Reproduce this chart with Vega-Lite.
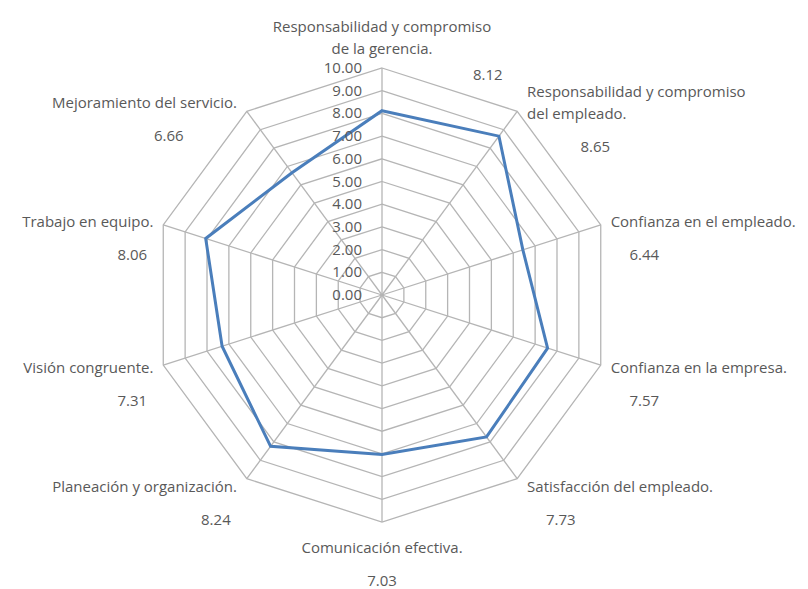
{
  "$schema": "https://vega.github.io/schema/vega-lite/v6.json",
  "width": 460,
  "height": 454,
  "autosize": {"type": "none"},
  "padding": {"left": 152, "top": 68, "right": 196, "bottom": 67},
  "background": "white",
  "config": {"view": {"stroke": null}, "text": {"font": "Open Sans", "fontSize": 15, "color": "#595959"}},
  "datasets": {
    "criterios": [
      {"criterio": "Responsabilidad y compromiso de la gerencia.", "valor": 8.12},
      {"criterio": "Responsabilidad y compromiso del empleado.", "valor": 8.65},
      {"criterio": "Confianza en el empleado.", "valor": 6.44},
      {"criterio": "Confianza en la empresa.", "valor": 7.57},
      {"criterio": "Satisfacción del empleado.", "valor": 7.73},
      {"criterio": "Comunicación efectiva.", "valor": 7.03},
      {"criterio": "Planeación y organización.", "valor": 8.24},
      {"criterio": "Visión congruente.", "valor": 7.31},
      {"criterio": "Trabajo en equipo.", "valor": 8.06},
      {"criterio": "Mejoramiento del servicio.", "valor": 6.66}
    ],
    "niveles": [
      {"v": 0}, {"v": 1}, {"v": 2}, {"v": 3}, {"v": 4}, {"v": 5},
      {"v": 6}, {"v": 7}, {"v": 8}, {"v": 9}, {"v": 10}
    ]
  },
  "data": {"name": "criterios"},
  "transform": [
    {"window": [{"op": "row_number", "as": "i"}]},
    {"calculate": "(datum.i - 1) * 2 * PI / 10", "as": "a"},
    {"calculate": "sin(datum.a)", "as": "s"},
    {"calculate": "cos(datum.a)", "as": "c"},
    {"calculate": "datum.s > 0.1 ? 1 : (datum.s < -0.1 ? -1 : 0)", "as": "sgn"},
    {"calculate": "length(datum.criterio) > 30 ? replace(datum.criterio, 'compromiso ', 'compromiso|') : datum.criterio", "as": "lbl"},
    {"calculate": "length(split(datum.lbl, '|'))", "as": "n"},
    {"calculate": "10 * datum.s + datum.sgn * 0.43", "as": "lx"},
    {"calculate": "datum.sgn != 0 ? 10.44 * datum.c + (datum.n - 1) * 0.485 : (datum.c > 0 ? 10.35 + (2 * datum.n - 1) * 0.485 : -11.15)", "as": "ly"},
    {"calculate": "datum.sgn != 0 ? 10 * datum.s + (datum.c > 0.5 ? datum.sgn * 2.75 : (datum.sgn > 0 ? 1.25 : -0.7)) : (datum.c > 0 ? 4.6 : 0)", "as": "vx"},
    {"calculate": "datum.sgn != 0 ? 10.44 * datum.c - (datum.n - 1) * 0.485 - 1.45 : (datum.c > 0 ? 9.7 : -12.6)", "as": "vy"},
    {"calculate": "format(datum.valor, '.2f')", "as": "vt"},
    {"calculate": "10 * datum.s", "as": "sx"},
    {"calculate": "10 * datum.c", "as": "sy"},
    {"calculate": "datum.valor * datum.s", "as": "px"},
    {"calculate": "datum.valor * datum.c", "as": "py"}
  ],
  "layer": [
    {
      "transform": [
        {"calculate": "[1,2,3,4,5,6,7,8,9,10]", "as": "nivel"},
        {"flatten": ["nivel"]},
        {"calculate": "datum.nivel * datum.s", "as": "gx"},
        {"calculate": "datum.nivel * datum.c", "as": "gy"}
      ],
      "mark": {"type": "line", "interpolate": "linear-closed", "stroke": "#b5b5b5", "strokeWidth": 1.3},
      "encoding": {
        "x": {"field": "gx", "type": "quantitative", "scale": {"domain": [-10, 10], "nice": false, "zero": false}, "axis": null},
        "y": {"field": "gy", "type": "quantitative", "scale": {"domain": [-10, 10], "nice": false, "zero": false}, "axis": null},
        "detail": {"field": "nivel", "type": "nominal"},
        "order": {"field": "i", "type": "quantitative"}
      }
    },
    {
      "transform": [{"calculate": "0", "as": "o"}],
      "mark": {"type": "rule", "stroke": "#b5b5b5", "strokeWidth": 1.3},
      "encoding": {
        "x": {"field": "o", "type": "quantitative", "scale": {"domain": [-10, 10], "nice": false, "zero": false}, "axis": null},
        "y": {"field": "o", "type": "quantitative", "scale": {"domain": [-10, 10], "nice": false, "zero": false}, "axis": null},
        "x2": {"field": "sx"},
        "y2": {"field": "sy"}
      }
    },
    {
      "mark": {"type": "line", "interpolate": "linear-closed", "stroke": "#4a7ebb", "strokeWidth": 3},
      "encoding": {
        "x": {"field": "px", "type": "quantitative", "scale": {"domain": [-10, 10], "nice": false, "zero": false}, "axis": null},
        "y": {"field": "py", "type": "quantitative", "scale": {"domain": [-10, 10], "nice": false, "zero": false}, "axis": null},
        "order": {"field": "i", "type": "quantitative"}
      }
    },
    {
      "data": {"name": "niveles"},
      "transform": [{"calculate": "format(datum.v, '.2f')", "as": "t"}, {"calculate": "0", "as": "o"}],
      "mark": {"type": "text", "align": "right", "baseline": "middle", "dx": -20},
      "encoding": {
        "x": {"field": "o", "type": "quantitative", "scale": {"domain": [-10, 10], "nice": false, "zero": false}, "axis": null},
        "y": {"field": "v", "type": "quantitative", "scale": {"domain": [-10, 10], "nice": false, "zero": false}, "axis": null},
        "text": {"field": "t", "type": "nominal"}
      }
    },
    {
      "transform": [{"filter": "datum.sgn > 0"}],
      "mark": {"type": "text", "align": "left", "baseline": "middle", "lineBreak": "|", "lineHeight": 22},
      "encoding": {
        "x": {"field": "lx", "type": "quantitative", "scale": {"domain": [-10, 10], "nice": false, "zero": false}, "axis": null},
        "y": {"field": "ly", "type": "quantitative", "scale": {"domain": [-10, 10], "nice": false, "zero": false}, "axis": null},
        "text": {"field": "lbl", "type": "nominal"}
      }
    },
    {
      "transform": [{"filter": "datum.sgn < 0"}],
      "mark": {"type": "text", "align": "right", "baseline": "middle", "lineBreak": "|", "lineHeight": 22},
      "encoding": {
        "x": {"field": "lx", "type": "quantitative", "scale": {"domain": [-10, 10], "nice": false, "zero": false}, "axis": null},
        "y": {"field": "ly", "type": "quantitative", "scale": {"domain": [-10, 10], "nice": false, "zero": false}, "axis": null},
        "text": {"field": "lbl", "type": "nominal"}
      }
    },
    {
      "transform": [{"filter": "datum.sgn == 0"}],
      "mark": {"type": "text", "align": "center", "baseline": "middle", "lineBreak": "|", "lineHeight": 22},
      "encoding": {
        "x": {"field": "lx", "type": "quantitative", "scale": {"domain": [-10, 10], "nice": false, "zero": false}, "axis": null},
        "y": {"field": "ly", "type": "quantitative", "scale": {"domain": [-10, 10], "nice": false, "zero": false}, "axis": null},
        "text": {"field": "lbl", "type": "nominal"}
      }
    },
    {
      "transform": [{"filter": "datum.sgn > 0"}],
      "mark": {"type": "text", "align": "left", "baseline": "middle"},
      "encoding": {
        "x": {"field": "vx", "type": "quantitative", "scale": {"domain": [-10, 10], "nice": false, "zero": false}, "axis": null},
        "y": {"field": "vy", "type": "quantitative", "scale": {"domain": [-10, 10], "nice": false, "zero": false}, "axis": null},
        "text": {"field": "vt", "type": "nominal"}
      }
    },
    {
      "transform": [{"filter": "datum.sgn < 0"}],
      "mark": {"type": "text", "align": "right", "baseline": "middle"},
      "encoding": {
        "x": {"field": "vx", "type": "quantitative", "scale": {"domain": [-10, 10], "nice": false, "zero": false}, "axis": null},
        "y": {"field": "vy", "type": "quantitative", "scale": {"domain": [-10, 10], "nice": false, "zero": false}, "axis": null},
        "text": {"field": "vt", "type": "nominal"}
      }
    },
    {
      "transform": [{"filter": "datum.sgn == 0"}],
      "mark": {"type": "text", "align": "center", "baseline": "middle"},
      "encoding": {
        "x": {"field": "vx", "type": "quantitative", "scale": {"domain": [-10, 10], "nice": false, "zero": false}, "axis": null},
        "y": {"field": "vy", "type": "quantitative", "scale": {"domain": [-10, 10], "nice": false, "zero": false}, "axis": null},
        "text": {"field": "vt", "type": "nominal"}
      }
    }
  ]
}
